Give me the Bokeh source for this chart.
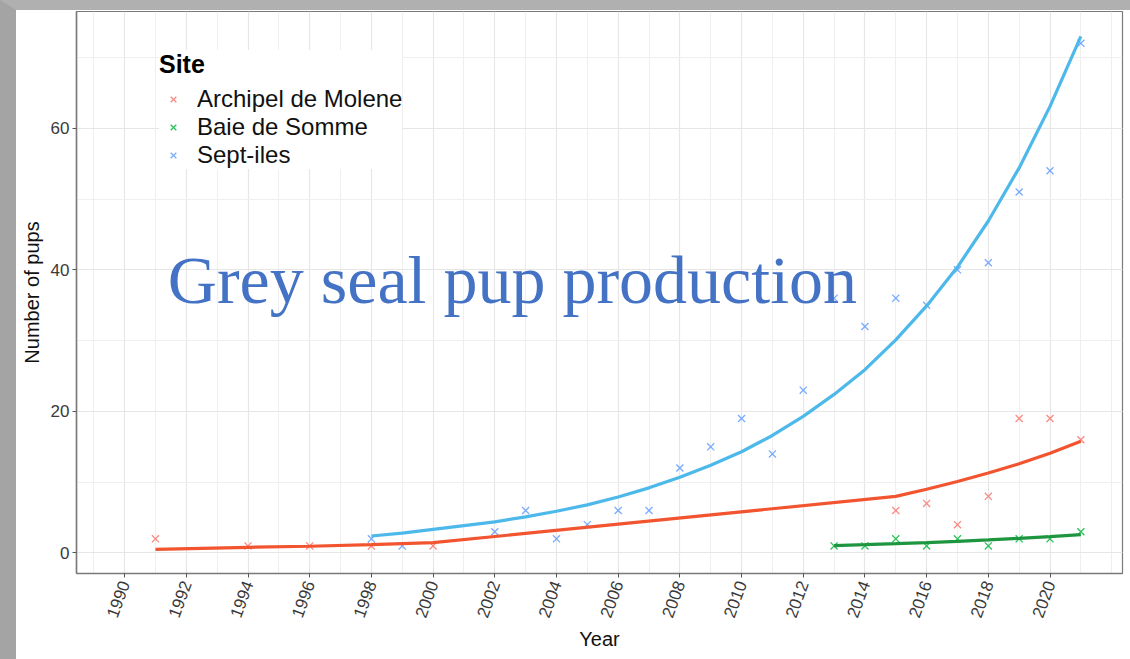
from bokeh.plotting import figure
from bokeh.layouts import column
from bokeh.models import Legend, LegendItem, Label, SingleIntervalTicker, FixedTicker, Range1d
from bokeh.embed import file_html
from bokeh.resources import INLINE

# ---- data ----
years_mol = [1991, 1994, 1996, 1998, 2000, 2015, 2016, 2017, 2018, 2019, 2020, 2021]
pups_mol = [2, 1, 1, 1, 1, 6, 7, 4, 8, 19, 19, 16]
fit_mol = [0.52, 0.8, 0.95, 1.18, 1.45, 8.0, 9.0, 10.1, 11.3, 12.6, 14.1, 15.8]

years_som = [2013, 2014, 2015, 2016, 2017, 2018, 2019, 2020, 2021]
pups_som = [1, 1, 2, 1, 2, 1, 2, 2, 3]
fit_som = [1.05, 1.18, 1.32, 1.47, 1.65, 1.85, 2.07, 2.32, 2.6]

years_sept = [1998, 1999, 2002, 2003, 2004, 2005, 2006, 2007, 2008, 2009, 2010,
              2011, 2012, 2013, 2014, 2015, 2016, 2017, 2018, 2019, 2020, 2021]
pups_sept = [2, 1, 3, 6, 2, 4, 6, 6, 12, 15, 19, 14, 23, 36, 32, 36, 35, 40, 41, 51, 54, 72]
fit_sept = [2.4, 2.8, 4.4, 5.1, 5.9, 6.8, 7.9, 9.2, 10.7, 12.4, 14.3, 16.6, 19.3, 22.4,
            25.9, 30.1, 34.9, 40.4, 46.9, 54.4, 63.1, 73.0]

site_names = ["Archipel de Molene", "Baie de Somme", "Sept-iles"]
point_colors = ["#F8766D", "#00BA38", "#619CFF"]
line_colors = ["#F2542F", "#1E9640", "#4DB8EA"]

x_major_ticks = [1990, 1992, 1994, 1996, 1998, 2000, 2002, 2004, 2006, 2008, 2010,
                 2012, 2014, 2016, 2018, 2020]
x_minor_ticks = [1989, 1991, 1993, 1995, 1997, 1999, 2001, 2003, 2005, 2007, 2009,
                 2011, 2013, 2015, 2017, 2019, 2021, 2022]

title_text = "Grey seal pup production"

FONT = "Liberation Sans"

p = figure(width=1114, height=649, output_backend="svg", toolbar_location=None,
           x_range=Range1d(1988.44, 2022.35), y_range=Range1d(-2.9, 76.5),
           min_border_left=60, min_border_top=1, min_border_right=8, min_border_bottom=86)

p.background_fill_color = "white"
p.border_fill_color = "white"
p.outline_line_color = "#7A7A7A"
p.outline_line_width = 1.2

# grids / ticks
p.xaxis.ticker = FixedTicker(ticks=x_major_ticks, minor_ticks=x_minor_ticks)
p.yaxis.ticker = SingleIntervalTicker(interval=20, num_minor_ticks=2)
for g in (p.xgrid, p.ygrid):
    g.grid_line_color = "#E6E6E6"
    g.grid_line_width = 1.2
    g.minor_grid_line_color = "#EFEFEF"
    g.minor_grid_line_width = 1.0

# axes
for ax in (p.xaxis, p.yaxis):
    ax.axis_line_color = "#7A7A7A"
    ax.axis_line_width = 1.5
    ax.major_tick_line_color = "#555555"
    ax.major_tick_in = 0
    ax.major_tick_out = 4
    ax.minor_tick_line_color = None
    ax.major_label_text_font = FONT
    ax.major_label_text_font_size = "17px"
    ax.major_label_text_color = "#3A3A3A"
    ax.axis_label_text_font = FONT
    ax.axis_label_text_font_size = "20px"
    ax.axis_label_text_font_style = "normal"
    ax.axis_label_text_color = "#111111"

p.xaxis.axis_label = "Year"
p.yaxis.axis_label = "Number of pups"
p.xaxis.major_label_orientation = 1.22
p.xaxis.major_label_standoff = 4
p.xaxis.axis_label_standoff = 4
p.yaxis.major_label_standoff = 3
p.yaxis.axis_label_standoff = 5

# data
series = [(years_mol, pups_mol, fit_mol), (years_som, pups_som, fit_som),
          (years_sept, pups_sept, fit_sept)]
point_renderers = []
for (yrs, pups, fit), pc in zip(series, point_colors):
    r = p.scatter(yrs, pups, marker="x", size=10, line_color=pc, line_width=1.3, line_alpha=0.85)
    point_renderers.append(r)
for (yrs, pups, fit), lc in zip(series, line_colors):
    p.line(yrs, fit, line_color=lc, line_width=3.2)

# title text overlaid on the plot
p.add_layout(Label(x=1991.4, y=38.5, text=title_text, text_font="Liberation Serif",
                   text_font_size="68px", text_color="#4472C4",
                   text_baseline="alphabetic", text_align="left"))

legend = Legend(items=[LegendItem(label=n, renderers=[r]) for n, r in zip(site_names, point_renderers)],
                location=(83, 404), title="Site")
legend.title_text_font = FONT
legend.title_text_font_size = "25px"
legend.title_text_font_style = "bold"
legend.title_text_color = "#000000"
legend.title_standoff = 6
legend.label_text_font = FONT
legend.label_text_font_size = "24px"
legend.label_text_color = "#111111"
legend.label_height = 23
legend.glyph_width = 28
legend.glyph_height = 20
legend.label_standoff = 10
legend.spacing = -2
legend.padding = 6
legend.margin = 0
legend.border_line_color = None
legend.background_fill_color = "white"
legend.background_fill_alpha = 1.0
p.add_layout(legend)

# picture-frame shading along the top and left edges of the page
page = column(p, styles={"border-left": "16px solid #A4A4A4",
                         "border-top": "10px solid #B0B0B0",
                         "margin": "0"})

open("out.html", "w").write(file_html(page, INLINE))
